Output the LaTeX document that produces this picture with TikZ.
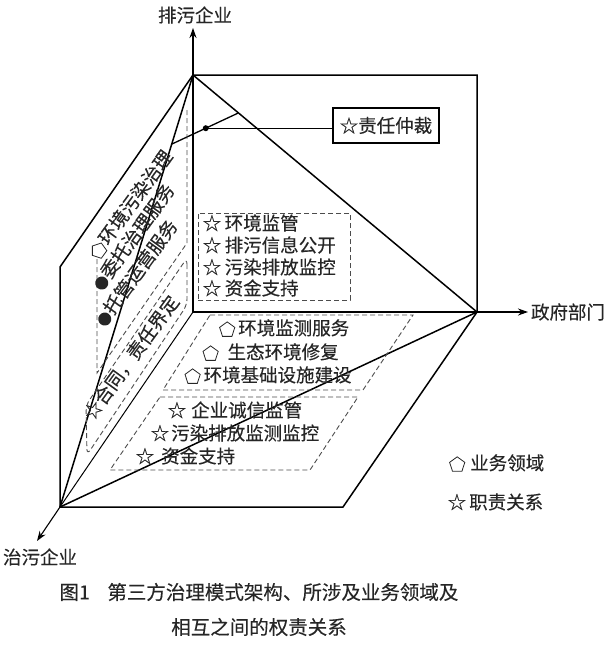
\documentclass[tikz,border=0pt]{standalone}
\usepackage{fontspec}
\setmainfont{Noto Sans CJK SC}[FakeBold=0.25]
\usetikzlibrary{arrows.meta,shapes.geometric,calc}
\newcommand{\pent}{\tikz[baseline=-0.5ex,x=1pt,y=1pt]\node[draw,line width=0.8pt,regular polygon,regular polygon sides=5,minimum size=16pt,inner sep=0pt]{};}
\newcommand{\bul}{\tikz[baseline=-0.5ex,x=1pt,y=1pt]\fill (0,0) circle (6.5pt);}
\begin{document}
\begin{tikzpicture}[x=1pt,y=-1pt,
  font=\fontsize{18.5}{22}\selectfont,
  mainline/.style={line width=1.5pt},
  axisarrow/.style={line width=1.1pt,-{Stealth[length=10pt,width=7pt]}},
  dashline/.style={line width=0.9pt,dash pattern=on 5pt off 3pt,black!70},
  txt/.style={inner sep=0pt,anchor=west,text=black!85},
  rtxt/.style={txt,rotate=54}]
\useasboundingbox (0,0) rectangle (611,651);
% corner points
\coordinate (P) at (193,75);
\coordinate (TR) at (477,75);
\coordinate (R) at (477,312);
\coordinate (C) at (193,312);
\coordinate (Q) at (60,507);
\coordinate (BR) at (343,507);
\coordinate (LT) at (60,267);
\coordinate (Ptip) at (193,28);
\coordinate (Rtip) at (528,312);
\coordinate (Qtip) at (37,541);
% axis labels
\node[text=black!85] (ylab) at (195,15) {排污企业};
\node[text=black!85] (xlab) at (568,312) {政府部门};
\node[text=black!85] (zlab) at (40,557) {治污企业};
% axes
\draw[axisarrow] (P) -- (Ptip);
\draw[axisarrow] (R) -- (Rtip);
\draw[axisarrow] (Q) -- (Qtip);
% outline
\draw[mainline,line join=miter] (P) -- (TR) -- (R) -- (BR) -- (Q) -- (LT) -- cycle;
\draw[mainline] (P) -- (C) -- (R);
\draw[line width=1pt] (C) -- (Q);
\draw[mainline] (P) -- (R);
\draw[mainline] (Q) -- (R);
\draw[mainline] (Q) -- (P);
% arbitration
\coordinate (A1) at ($(Q)!0.84!(P)$);
\coordinate (A2) at ($(P)!0.16!(R)$);
\draw[line width=1.3pt] (A1) -- (A2);
\coordinate (D) at ($(A1)!0.51!(A2)$);
\fill (D) circle (3pt);
\node[draw,line width=1.3pt,minimum width=106pt,minimum height=35pt,inner sep=0pt,text=black!85] (arb) at (386,125.5) {☆责任仲裁};
\draw[line width=0.8pt] (D) -- (D -| arb.west);
% back face box
\node[draw,dashline,minimum width=152pt,minimum height=87pt,inner sep=0pt] (bf) at (274,256.5) {};
\node[txt] (b1) at (202.5,223) {☆\hspace{3.5pt}环境监管};
\node[txt] (b2) at (202.5,245) {☆\hspace{3.5pt}排污信息公开};
\node[txt] (b3) at (202.5,267) {☆\hspace{3.5pt}污染排放监控};
\node[txt] (b4) at (202.5,288) {☆\hspace{3.5pt}资金支持};
% bottom face: business fields
\draw[dashline] (210,315) -- (413,315) -- (363,390) -- (163,390) -- cycle;
\node[txt] (s1) at (219,328) {\pent\hspace{3pt}环境监测服务};
\node[txt] (s2) at (202.4,352) {\pent\hspace{9pt}生态环境修复};
\node[txt] (s3) at (184.4,375) {\pent\hspace{3pt}环境基础设施建设};
% bottom face: duties
\draw[dashline] (160,397) -- (358,397) -- (310,470) -- (110,470) -- cycle;
\node[txt] (d1) at (167.5,410) {☆\hspace{5pt}企业诚信监管};
\node[txt] (d2) at (150.5,433) {☆\hspace{2pt}污染排放监测监控};
\node[txt] (d3) at (135.5,456) {☆\hspace{7pt}资金支持};
% left face
\draw[dashline] (187,110) -- (187,243) -- (97,373) -- (97,258);
\draw[dashline,rounded corners=6pt] (187,258) -- (187,305) -- (87,455) -- (86,405) -- cycle;
\node[rtxt] (l1) at (92.5,256.2) {\pent\hspace{1pt}环境污染治理};
\node[rtxt] (l2) at (96.2,287.3) {\bul\hspace{1pt}委托治理服务};
\node[rtxt] (l3) at (99.2,323.3) {\bul\hspace{1pt}托管运营服务};
\node[rtxt] (l4) at (87.4,417.7) {☆合同，责任界定};
% legend
\node[txt] (lg1) at (449,463) {\pent\hspace{5pt}业务领域};
\node[txt] (lg2) at (447.5,502) {☆\hspace{3pt}职责关系};
% caption
\node[font=\fontsize{19.5}{22}\selectfont,text=black!85] (cap1) at (259,592) {图1\hspace{0.9em}第三方治理模式架构、所涉及业务领域及};
\node[font=\fontsize{19.5}{22}\selectfont,text=black!85] (cap2) at (259,627) {相互之间的权责关系};
\end{tikzpicture}
\end{document}
